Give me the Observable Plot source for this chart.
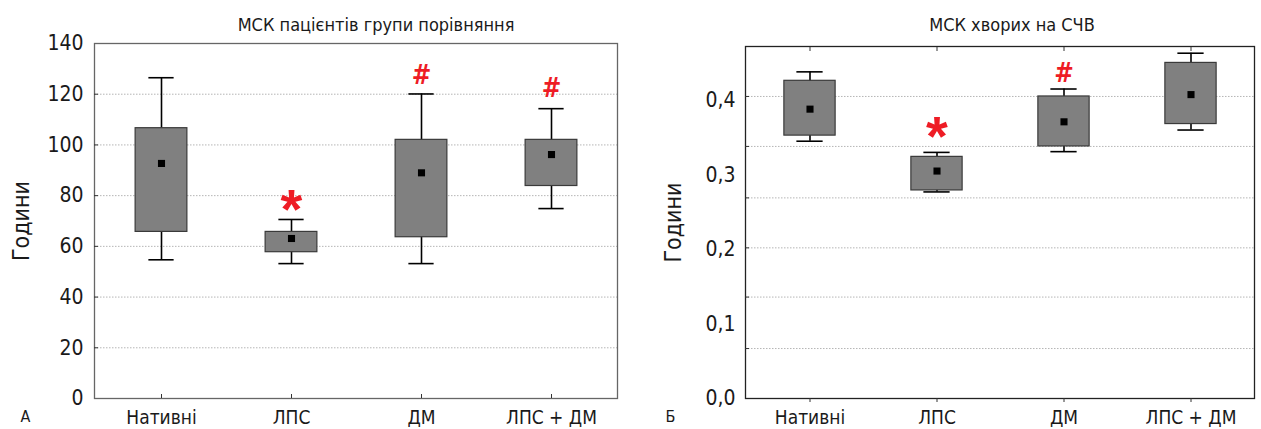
<!DOCTYPE html>
<html><head><meta charset="utf-8">
<script src="https://cdn.jsdelivr.net/npm/d3@7"></script>
<script src="https://cdn.jsdelivr.net/npm/@observablehq/plot@0.6"></script>
<style>
body{margin:0;background:#fff;}
#wrap{display:flex;width:1261px;height:429px;overflow:hidden;}
</style></head><body><div id="wrap"></div>
<script>
const groups = ["Нативні", "ЛПС", "ДМ", "ЛПС + ДМ"];

// Panel А
const titleA = "МСК пацієнтів групи порівняння";
const loA  = [54.7, 53.2, 53.2, 74.9];
const q1A  = [65.7, 57.7, 63.6, 83.8];
const medA = [92.7, 63.1, 89.0, 96.2];
const q3A  = [106.6, 65.7, 102.0, 102.0];
const hiA  = [126.5, 70.6, 120.1, 114.3];
const ticksA = [0, 20, 40, 60, 80, 100, 120, 140];
const gridA = [20, 40, 60, 80, 100, 120];
const markGroupsA = ["ЛПС", "ДМ", "ЛПС + ДМ"];
const markYA = [78, 127.4, 122.2];
const markTextA = ["*", "#", "#"];

// Panel Б
const titleB = "МСК хворих на СЧВ";
const loB  = [0.345, 0.277, 0.331, 0.360];
const q1B  = [0.3525, 0.279, 0.338, 0.368];
const medB = [0.388, 0.305, 0.371, 0.4075];
const q3B  = [0.426, 0.324, 0.405, 0.450];
const hiB  = [0.438, 0.330, 0.415, 0.463];
const ticksB = [0, 0.1, 0.2, 0.3, 0.4];
const gridB = [0.067, 0.136, 0.202, 0.269, 0.338, 0.405];
const markGroupsB = ["ЛПС", "ДМ"];
const markYB = [0.363, 0.436];
const markTextB = ["*", "#"];

const yLabel = "Години";
const FONT = "'Liberation Sans Narrow', 'DejaVu Sans Condensed', 'Roboto Condensed', 'Liberation Sans', sans-serif";

function panel(o) {
  const rows = groups.map((g, i) => ({g, lo: o.lo[i], q1: o.q1[i], med: o.med[i], q3: o.q3[i], hi: o.hi[i]}));
  const marks = o.markGroups.map((g, i) => ({g, y: o.markY[i], t: o.markText[i]}));
  const band = (o.width - o.ml - o.mr) / groups.length;
  const boxInset = (band - o.boxW) / 2;
  const capInset = (band - o.capW) / 2;
  const extra = [];
  if (o.topTicks) extra.push(Plot.axisX({anchor: "top", tickSize: -4, tickFormat: () => "", stroke: "#333"}));
  return Plot.plot({
    width: o.width, height: 429,
    marginLeft: o.ml, marginRight: o.mr, marginTop: o.mt, marginBottom: 31,
    style: {fontFamily: FONT, fontSize: "21px", color: "#1a1a1a", background: "#fff"},
    x: {type: "band", domain: groups, padding: 0, label: null},
    y: {domain: o.domain, label: null},
    marks: [
      Plot.ruleY(o.grid, {stroke: "#b5b5b5", strokeDasharray: "1.5,1.5", strokeWidth: 1}),
      Plot.ruleX(rows, {x: "g", y1: "lo", y2: "hi", stroke: "#000", strokeWidth: 1.6}),
      Plot.tickY(rows, {x: "g", y: "lo", stroke: "#000", strokeWidth: 1.6, insetLeft: capInset, insetRight: capInset}),
      Plot.tickY(rows, {x: "g", y: "hi", stroke: "#000", strokeWidth: 1.6, insetLeft: capInset, insetRight: capInset}),
      Plot.barY(rows, {x: "g", y1: "q1", y2: "q3", fill: "#808080", stroke: "#3a3a3a", strokeWidth: 1.2, insetLeft: boxInset, insetRight: boxInset}),
      Plot.dot(rows, {x: "g", y: "med", symbol: "square", r: 4, fill: "#000", stroke: "none"}),
      Plot.text(marks.filter(d => d.t === "*"), {x: "g", y: "y", text: "t", fill: "#ee1c25", fontSize: 56, fontWeight: "bold", dy: 9, fontFamily: "'Liberation Sans', sans-serif"}),
      Plot.text(marks.filter(d => d.t === "#"), {x: "g", y: "y", text: "t", fill: "#ee1c25", fontSize: 26, fontWeight: "bold"}),
      Plot.frame({stroke: o.frameStroke, strokeWidth: 1.3}),
      Plot.axisY({ticks: o.grid, tickSize: -4, tickFormat: () => "", stroke: "#333"}),
      Plot.axisY({ticks: o.ticks, tickSize: 0, tickPadding: o.yPad, tickFormat: o.fmt}),
      Plot.axisX({tickSize: o.xTick, tickFormat: () => "", stroke: "#333"}),
      Plot.axisX({tickSize: 0, tickPadding: 12, fontSize: 19}),
      ...extra,
      Plot.text([o.title], {frameAnchor: "top", lineAnchor: "middle", textAnchor: "middle", dx: o.titleDx, dy: -18 - (o.mt - 43), fontSize: 18}),
      Plot.text([yLabel], {frameAnchor: "left", lineAnchor: "middle", textAnchor: "middle", dx: -o.ylDx, rotate: -90, fontSize: 23}),
      Plot.text([o.letter], {frameAnchor: "bottom-left", lineAnchor: "middle", textAnchor: "middle", dx: -o.letDx, dy: 18, fontSize: 16})
    ]
  });
}

const wrap = document.getElementById("wrap");
wrap.append(panel({
  width: 650, ml: 94, mr: 33, mt: 43, domain: [0, 140],
  lo: loA, q1: q1A, med: medA, q3: q3A, hi: hiA,
  ticks: ticksA, grid: gridA, fmt: d => String(d), yPad: 11,
  markGroups: markGroupsA, markY: markYA, markText: markTextA,
  boxW: 52.5, capW: 26, frameStroke: "#666", xTick: -4, topTicks: false,
  title: titleA, titleDx: 20, ylDx: 73, letter: "А", letDx: 69
}));
wrap.append(panel({
  width: 611, ml: 95, mr: 7, mt: 46, domain: [0, 0.472],
  lo: loB, q1: q1B, med: medB, q3: q3B, hi: hiB,
  ticks: ticksB, grid: gridB, fmt: d => d.toFixed(1).replace(".", ","), yPad: 10,
  markGroups: markGroupsB, markY: markYB, markText: markTextB,
  boxW: 51.5, capW: 26.5, frameStroke: "#222", xTick: 4, topTicks: true,
  title: titleB, titleDx: 12, ylDx: 72, letter: "Б", letDx: 75
}));
</script>
</body></html>
